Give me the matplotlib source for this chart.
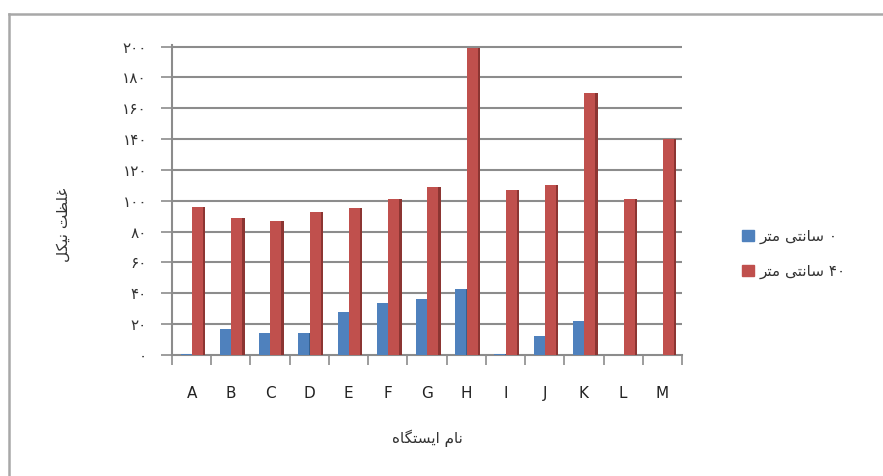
import numpy as np
import matplotlib.pyplot as plt
from matplotlib.lines import Line2D
from matplotlib.patches import Patch

plt.rcParams['font.family'] = ['DejaVu Sans']

# station names and nickel values
stations = ["A", "B", "C", "D", "E", "F", "G", "H", "I", "J", "K", "L", "M"]
depth_0 = [0.5, 17, 14, 14, 28, 34, 36, 43, 0.8, 12, 22, 0.3, 0.3]
depth_40 = [96, 89, 87, 93, 95, 101, 109, 199, 107, 110, 170, 101, 140]

y_ticks = [0, 20, 40, 60, 80, 100, 120, 140, 160, 180, 200]

# Persian text, written in visual (left-to-right) order with presentation forms
fa_digits = "۰۱۲۳۴۵۶۷۸۹"
y_label = "\uFEDE\uFEDC\uFEF4\uFEE7 \uFE96\uFEC8\uFEE0\uFECF"          # غلظت نیکل
x_label = "\uFEE9\uFE8E\uFB95\uFE98\uFEB4\uFEF3\uFE8D \uFEE1\uFE8E\uFEE7"  # نام ایستگاه
unit = "\uFEAE\uFE98\uFEE3 \uFEF0\uFE98\uFEE7\uFE8E\uFEB3"              # سانتی متر
legend_labels = [unit + " ۰", unit + " ۴۰"]


def to_fa(n):
    return "".join(fa_digits[int(c)] for c in str(n))


blue = "#4F81BD"
blue_dark = "#35608F"
red = "#C0504D"
red_dark = "#8C3532"
grid_c = "#8C8C8C"
text_c = "#333333"

fig = plt.figure(figsize=(8.83, 4.76), dpi=100, facecolor="white")
ax = fig.add_axes([172 / 883, 1 - 355 / 476, (682 - 172) / 883, (355 - 45) / 476])

x = np.arange(len(stations))
w = 0.28
ax.bar(x - 0.14, depth_0, width=w, color=blue, zorder=3)
ax.bar(x - 0.14 + w / 2 + 0.03, depth_0, width=0.06, color=blue_dark, zorder=3)
ax.bar(x + 0.15, depth_40, width=w, color=red, zorder=4)
ax.bar(x + 0.15 + w / 2 + 0.03, depth_40, width=0.06, color=red_dark, zorder=4)

ax.set_xlim(-0.5, len(stations) - 0.5)
ax.set_ylim(0, 201)

# grid
for v in y_ticks[1:]:
    ax.axhline(v, color=grid_c, lw=1.5, zorder=1)

ax.set_yticks(y_ticks)
ax.set_yticklabels([to_fa(v) for v in y_ticks], fontsize=11, color=text_c)
ax.tick_params(axis="y", length=8, width=1.2, color=grid_c, pad=10)

ax.set_xticks(np.arange(len(stations) + 1) - 0.5)
ax.set_xticklabels([])
ax.tick_params(axis="x", length=7, width=1.2, color=grid_c, direction="out")
ax.set_xticks(x, minor=True)
ax.set_xticklabels(stations, minor=True, fontsize=11, color="#222222")
ax.tick_params(axis="x", which="minor", length=0, pad=22)

for s in ["top", "right"]:
    ax.spines[s].set_visible(False)
for s in ["left", "bottom"]:
    ax.spines[s].set_color(grid_c)
    ax.spines[s].set_linewidth(1.5)

ax.set_xlabel(x_label, fontsize=11, color=text_c)
ax.xaxis.set_label_coords(0.5, -(430 - 355) / 310)
ax.set_ylabel(y_label, fontsize=11, color=text_c)
ax.yaxis.set_label_coords(-(172 - 71) / 510, (355 - 225) / 310)

handles = [Patch(color=blue), Patch(color=red)]
fig.legend(handles, legend_labels, loc="upper left", bbox_to_anchor=(728 / 883, 1 - 215 / 476),
           frameon=False, fontsize=11, handlelength=0.8, handleheight=0.8,
           handletextpad=0.4, labelspacing=1.3, labelcolor=text_c)

# outer chart border (only top and left are visible in the crop)
fig.add_artist(Line2D([9 / 883, 1], [1 - 14 / 476, 1 - 14 / 476], color="#A8A8A8", lw=1.8))
fig.add_artist(Line2D([9 / 883, 9 / 883], [0, 1 - 14 / 476], color="#A8A8A8", lw=1.8))

fig.savefig("out.png", dpi=100)
